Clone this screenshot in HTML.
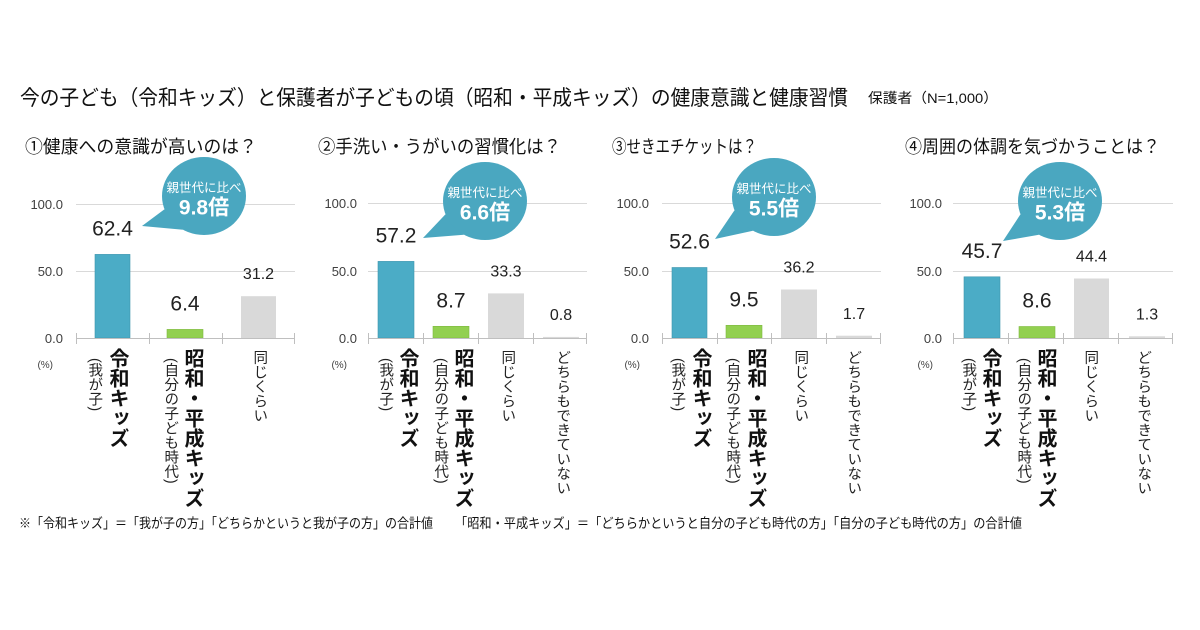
<!DOCTYPE html>
<html><head><meta charset="utf-8">
<style>
html,body{margin:0;padding:0;background:#fff;}
#wrap{position:relative;width:1200px;height:630px;overflow:hidden;background:#fff;font-family:"Liberation Sans","Noto Sans CJK JP",sans-serif;}
svg{position:absolute;left:0;top:0;}
.v{position:absolute;writing-mode:vertical-rl;line-height:1;white-space:nowrap;color:#111;font-family:"Liberation Sans","Noto Sans CJK JP",sans-serif;}
.b{font-size:20px;font-weight:700;width:20px;}
.s{font-size:14.5px;width:14.5px;color:#222;}
</style></head><body><div id="wrap">
<svg width="1200" height="630" viewBox="0 0 1200 630" xmlns="http://www.w3.org/2000/svg" font-family="Liberation Sans, Noto Sans CJK JP, sans-serif">
<!-- Title -->
<text x="20" y="105" font-size="21" fill="#111" textLength="828" lengthAdjust="spacingAndGlyphs">今の子ども（令和キッズ）と保護者が子どもの頃（昭和・平成キッズ）の健康意識と健康習慣</text>
<text x="868" y="103" font-size="14" fill="#111" textLength="130" lengthAdjust="spacingAndGlyphs">保護者（N=1,000）</text>
<!-- Subtitles -->
<g font-size="18" fill="#111">
<text x="25" y="153" textLength="232" lengthAdjust="spacingAndGlyphs">①健康への意識が高いのは？</text>
<text x="318" y="153" textLength="243" lengthAdjust="spacingAndGlyphs">②手洗い・うがいの習慣化は？</text>
<text x="612" y="153" textLength="145" lengthAdjust="spacingAndGlyphs">③せきエチケットは？</text>
<text x="905" y="153" textLength="255" lengthAdjust="spacingAndGlyphs">④周囲の体調を気づかうことは？</text>
</g>

<!-- Chart 1 -->
<g>
<line x1="76" y1="204.5" x2="295" y2="204.5" stroke="#D9D9D9" stroke-width="1"/>
<line x1="76" y1="271.5" x2="295" y2="271.5" stroke="#D9D9D9" stroke-width="1"/>
<rect x="95" y="254.4" width="35" height="83.6" fill="#4BACC6" stroke="#3E95AD" stroke-width="0.6"/>
<rect x="167" y="329.4" width="36" height="8.6" fill="#92D050" stroke="#7FB940" stroke-width="0.6"/>
<rect x="241" y="296.2" width="35" height="41.8" fill="#D9D9D9"/>
<line x1="76" y1="338.5" x2="295" y2="338.5" stroke="#BFBFBF" stroke-width="1"/>
<g stroke="#BFBFBF" stroke-width="1">
<line x1="76.5" y1="333" x2="76.5" y2="344"/><line x1="149.5" y1="333" x2="149.5" y2="344"/><line x1="222.5" y1="333" x2="222.5" y2="344"/><line x1="294.5" y1="333" x2="294.5" y2="344"/>
</g>
<g font-size="13" fill="#404040" text-anchor="end">
<text x="63" y="209">100.0</text><text x="63" y="276">50.0</text><text x="63" y="343">0.0</text>
</g>
<text x="53" y="368" font-size="10" fill="#404040" text-anchor="end">(%)</text>
<g fill="#222" text-anchor="middle">
<text x="112.5" y="235.5" font-size="21">62.4</text>
<text x="185" y="310.5" font-size="21">6.4</text>
<text x="258.5" y="279" font-size="16">31.2</text>
</g>
<path d="M142,226 L183,229.8 L164.5,209.3 Z" fill="#4AA7C0"/>
<ellipse cx="204" cy="196" rx="42" ry="39" fill="#4AA7C0"/>
<text x="204" y="192" font-size="12.5" fill="#fff" text-anchor="middle">親世代に比べ</text>
<text x="204" y="214.5" font-size="21" font-weight="700" fill="#fff" text-anchor="middle">9.8倍</text>
</g>

<!-- Chart 2 -->
<g>
<line x1="368" y1="203.5" x2="587" y2="203.5" stroke="#D9D9D9" stroke-width="1"/>
<line x1="368" y1="271.5" x2="587" y2="271.5" stroke="#D9D9D9" stroke-width="1"/>
<rect x="378" y="261.4" width="36" height="76.6" fill="#4BACC6" stroke="#3E95AD" stroke-width="0.6"/>
<rect x="433" y="326.3" width="36" height="11.7" fill="#92D050" stroke="#7FB940" stroke-width="0.6"/>
<rect x="488" y="293.4" width="36" height="44.6" fill="#D9D9D9"/>
<rect x="543" y="336.9" width="36" height="1.1" fill="#D9D9D9"/>
<line x1="368" y1="338.5" x2="587" y2="338.5" stroke="#BFBFBF" stroke-width="1"/>
<g stroke="#BFBFBF" stroke-width="1">
<line x1="368.5" y1="333" x2="368.5" y2="344"/><line x1="423.5" y1="333" x2="423.5" y2="344"/><line x1="478.5" y1="333" x2="478.5" y2="344"/><line x1="533.5" y1="333" x2="533.5" y2="344"/><line x1="586.5" y1="333" x2="586.5" y2="344"/>
</g>
<g font-size="13" fill="#404040" text-anchor="end">
<text x="357" y="208">100.0</text><text x="357" y="276">50.0</text><text x="357" y="343">0.0</text>
</g>
<text x="347" y="368" font-size="10" fill="#404040" text-anchor="end">(%)</text>
<g fill="#222" text-anchor="middle">
<text x="396" y="242.5" font-size="21">57.2</text>
<text x="451" y="307.3" font-size="21">8.7</text>
<text x="506" y="276.4" font-size="16">33.3</text>
<text x="561" y="320" font-size="16">0.8</text>
</g>
<path d="M423,238 L464,234.8 L445.5,214.3 Z" fill="#4AA7C0"/>
<ellipse cx="485" cy="201" rx="42" ry="39" fill="#4AA7C0"/>
<text x="485" y="197" font-size="12.5" fill="#fff" text-anchor="middle">親世代に比べ</text>
<text x="485" y="219.5" font-size="21" font-weight="700" fill="#fff" text-anchor="middle">6.6倍</text>
</g>

<!-- Chart 3 -->
<g>
<line x1="662" y1="203.5" x2="881" y2="203.5" stroke="#D9D9D9" stroke-width="1"/>
<line x1="662" y1="271.5" x2="881" y2="271.5" stroke="#D9D9D9" stroke-width="1"/>
<rect x="672" y="267.5" width="35" height="70.5" fill="#4BACC6" stroke="#3E95AD" stroke-width="0.6"/>
<rect x="726" y="325.3" width="36" height="12.7" fill="#92D050" stroke="#7FB940" stroke-width="0.6"/>
<rect x="781" y="289.5" width="36" height="48.5" fill="#D9D9D9"/>
<rect x="836" y="335.7" width="36" height="2.3" fill="#D9D9D9"/>
<line x1="662" y1="338.5" x2="881" y2="338.5" stroke="#BFBFBF" stroke-width="1"/>
<g stroke="#BFBFBF" stroke-width="1">
<line x1="662.5" y1="333" x2="662.5" y2="344"/><line x1="717.5" y1="333" x2="717.5" y2="344"/><line x1="771.5" y1="333" x2="771.5" y2="344"/><line x1="826.5" y1="333" x2="826.5" y2="344"/><line x1="880.5" y1="333" x2="880.5" y2="344"/>
</g>
<g font-size="13" fill="#404040" text-anchor="end">
<text x="649" y="208">100.0</text><text x="649" y="276">50.0</text><text x="649" y="343">0.0</text>
</g>
<text x="640" y="368" font-size="10" fill="#404040" text-anchor="end">(%)</text>
<g fill="#222" text-anchor="middle">
<text x="689.5" y="248.5" font-size="21">52.6</text>
<text x="744" y="306.5" font-size="21">9.5</text>
<text x="799" y="272.5" font-size="16">36.2</text>
<text x="854" y="319" font-size="16">1.7</text>
</g>
<path d="M715,239 L753,230.8 L734.5,210.3 Z" fill="#4AA7C0"/>
<ellipse cx="774" cy="197" rx="42" ry="39" fill="#4AA7C0"/>
<text x="774" y="193" font-size="12.5" fill="#fff" text-anchor="middle">親世代に比べ</text>
<text x="774" y="215.5" font-size="21" font-weight="700" fill="#fff" text-anchor="middle">5.5倍</text>
</g>

<!-- Chart 4 -->
<g>
<line x1="953" y1="203.5" x2="1173" y2="203.5" stroke="#D9D9D9" stroke-width="1"/>
<line x1="953" y1="271.5" x2="1173" y2="271.5" stroke="#D9D9D9" stroke-width="1"/>
<rect x="964" y="276.8" width="36" height="61.2" fill="#4BACC6" stroke="#3E95AD" stroke-width="0.6"/>
<rect x="1019" y="326.5" width="36" height="11.5" fill="#92D050" stroke="#7FB940" stroke-width="0.6"/>
<rect x="1074" y="278.5" width="35" height="59.5" fill="#D9D9D9"/>
<rect x="1129" y="336.3" width="36" height="1.7" fill="#D9D9D9"/>
<line x1="953" y1="338.5" x2="1173" y2="338.5" stroke="#BFBFBF" stroke-width="1"/>
<g stroke="#BFBFBF" stroke-width="1">
<line x1="953.5" y1="333" x2="953.5" y2="344"/><line x1="1008.5" y1="333" x2="1008.5" y2="344"/><line x1="1063.5" y1="333" x2="1063.5" y2="344"/><line x1="1118.5" y1="333" x2="1118.5" y2="344"/><line x1="1172.5" y1="333" x2="1172.5" y2="344"/>
</g>
<g font-size="13" fill="#404040" text-anchor="end">
<text x="942" y="208">100.0</text><text x="942" y="276">50.0</text><text x="942" y="343">0.0</text>
</g>
<text x="933" y="368" font-size="10" fill="#404040" text-anchor="end">(%)</text>
<g fill="#222" text-anchor="middle">
<text x="982" y="258" font-size="21">45.7</text>
<text x="1037" y="307.5" font-size="21">8.6</text>
<text x="1091.5" y="261.5" font-size="16">44.4</text>
<text x="1147" y="319.5" font-size="16">1.3</text>
</g>
<path d="M1003,241 L1039,234.8 L1020.5,214.3 Z" fill="#4AA7C0"/>
<ellipse cx="1060" cy="201" rx="42" ry="39" fill="#4AA7C0"/>
<text x="1060" y="197" font-size="12.5" fill="#fff" text-anchor="middle">親世代に比べ</text>
<text x="1060" y="219.5" font-size="21" font-weight="700" fill="#fff" text-anchor="middle">5.3倍</text>
</g>

<!-- Footnote -->
<g font-size="13.5" fill="#111">
<text x="19" y="528" textLength="414" lengthAdjust="spacingAndGlyphs">※「令和キッズ」＝「我が子の方」「どちらかというと我が子の方」の合計値</text>
<text x="455" y="528" textLength="567" lengthAdjust="spacingAndGlyphs">「昭和・平成キッズ」＝「どちらかというと自分の子ども時代の方」「自分の子ども時代の方」の合計値</text>
</g>
</svg>

<!-- Vertical category labels -->
<!-- Chart 1 -->
<div class="v b" style="left:107px;top:348px;">令和キッズ</div>
<div class="v s" style="left:86.75px;top:358px;">(我が子)</div>
<div class="v b" style="left:182px;top:348px;">昭和・平成キッズ</div>
<div class="v s" style="left:162.75px;top:358px;">(自分の子ども時代)</div>
<div class="v s" style="left:251.75px;top:350px;">同じくらい</div>
<!-- Chart 2 -->
<div class="v b" style="left:397px;top:348px;">令和キッズ</div>
<div class="v s" style="left:377.75px;top:358px;">(我が子)</div>
<div class="v b" style="left:452px;top:348px;">昭和・平成キッズ</div>
<div class="v s" style="left:432.75px;top:358px;">(自分の子ども時代)</div>
<div class="v s" style="left:499.75px;top:350px;">同じくらい</div>
<div class="v s" style="left:554.75px;top:350px;">どちらもできていない</div>
<!-- Chart 3 -->
<div class="v b" style="left:690px;top:348px;">令和キッズ</div>
<div class="v s" style="left:669.75px;top:358px;">(我が子)</div>
<div class="v b" style="left:745px;top:348px;">昭和・平成キッズ</div>
<div class="v s" style="left:724.75px;top:358px;">(自分の子ども時代)</div>
<div class="v s" style="left:792.75px;top:350px;">同じくらい</div>
<div class="v s" style="left:845.75px;top:350px;">どちらもできていない</div>
<!-- Chart 4 -->
<div class="v b" style="left:980px;top:348px;">令和キッズ</div>
<div class="v s" style="left:960.75px;top:358px;">(我が子)</div>
<div class="v b" style="left:1035px;top:348px;">昭和・平成キッズ</div>
<div class="v s" style="left:1015.75px;top:358px;">(自分の子ども時代)</div>
<div class="v s" style="left:1082.75px;top:350px;">同じくらい</div>
<div class="v s" style="left:1135.75px;top:350px;">どちらもできていない</div>
</div></body></html>
